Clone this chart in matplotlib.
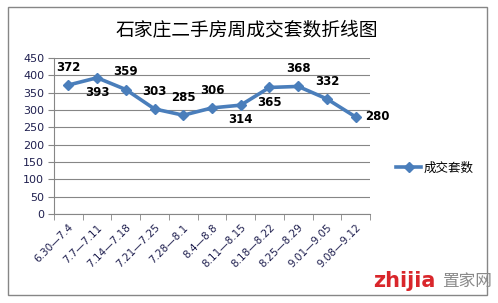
import matplotlib
matplotlib.use("Agg")
import matplotlib.pyplot as plt
from matplotlib.patches import Rectangle
import numpy as np

plt.rcParams['font.family'] = ['Noto Sans CJK SC', 'DejaVu Sans']

categories = ["6.30—7.4", "7.7—7.11", "7.14—7.18", "7.21—7.25", "7.28—8.1", "8.4—8.8",
              "8.11—8.15", "8.18—8.22", "8.25—8.29", "9.01—9.05", "9.08—9.12"]
values = [372, 393, 359, 303, 285, 306, 314, 365, 368, 332, 280]
label_pos = ["above", "below", "above", "above", "above", "above", "below", "below", "above", "above", "right"]
yticks = [0, 50, 100, 150, 200, 250, 300, 350, 400, 450]
title = "石家庄二手房周成交套数折线图"
series_name = "成交套数"

W, H = 498, 303
fig = plt.figure(figsize=(W / 100, H / 100), dpi=100)
fig.patch.set_facecolor("white")

# outer chart border
fig.add_artist(Rectangle((8 / W, 1 - 295 / H), (487 - 8) / W, (295 - 7) / H,
                         transform=fig.transFigure, fill=False, edgecolor="#868686", lw=1))

left, right, top, bottom = 54, 370, 58, 214
ax = fig.add_axes([left / W, 1 - bottom / H, (right - left) / W, (bottom - top) / H])

x = np.arange(len(categories))
line, = ax.plot(x, values, color="#4A7EBB", lw=2.6, marker="D", markersize=5.5,
                markerfacecolor="#4A7EBB", markeredgecolor="#4A7EBB", label=series_name)

ax.set_xlim(-0.5, len(categories) - 0.5)
ax.set_ylim(0, 450)
ax.set_yticks(yticks)
ax.set_yticklabels([str(v) for v in yticks], color="#1F1F4F", fontsize=8, family="DejaVu Sans")
ax.grid(axis="y", color="#868686", lw=0.8)
ax.set_axisbelow(True)

ax.set_xticks(x)
ax.set_xticklabels(categories, rotation=45, ha="right", rotation_mode="anchor",
                   fontsize=7.5, color="#1F1F4F", family="DejaVu Sans")
ax.tick_params(axis="x", length=0, pad=6)
ax.set_xticks(np.arange(len(categories) + 1) - 0.5, minor=True)
ax.tick_params(axis="x", which="minor", length=4, color="#868686", direction="out")
ax.tick_params(axis="y", length=4, color="#868686", direction="out", pad=3)

for s in ["top", "right"]:
    ax.spines[s].set_visible(False)
ax.spines["left"].set_color("#868686")
ax.spines["bottom"].set_color("#868686")

for xi, v, p in zip(x, values, label_pos):
    if p == "above":
        ax.annotate(str(v), (xi, v), xytext=(0, 8), textcoords="offset points",
                    ha="center", va="bottom", fontsize=8.5, fontweight="semibold", family="DejaVu Sans")
    elif p == "below":
        ax.annotate(str(v), (xi, v), xytext=(0, -6), textcoords="offset points",
                    ha="center", va="top", fontsize=8.5, fontweight="semibold", family="DejaVu Sans")
    else:
        ax.annotate(str(v), (xi, v), xytext=(7, 0), textcoords="offset points",
                    ha="left", va="center", fontsize=8.5, fontweight="semibold", family="DejaVu Sans")

fig.text(247 / W, 1 - 30 / H, title, ha="center", va="center", fontsize=13.5)

fig.legend(handles=[line], labels=[series_name], loc="center left",
           bbox_to_anchor=(390 / W, 1 - 168 / H), frameon=False, fontsize=9,
           handlelength=2.0, handletextpad=0.2, borderpad=0)

# watermark
fig.text(373 / W, 1 - 281 / H, "zhijia", ha="left", va="center", fontsize=15,
         fontweight="bold", color="#D9262B", family="DejaVu Sans")
fig.text(442 / W, 1 - 281 / H, "置家网", ha="left", va="center", fontsize=12,
         color="#8A8A8A")

fig.savefig("out.png", dpi=100)
